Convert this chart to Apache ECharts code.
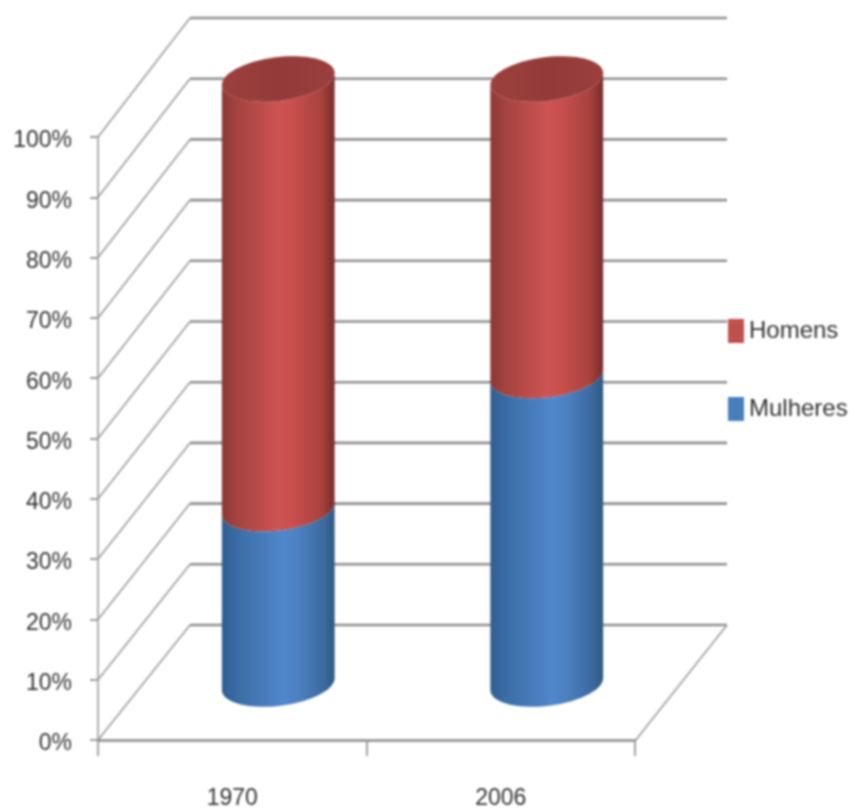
<!DOCTYPE html>
<html>
<head>
<meta charset="utf-8">
<style>html,body{margin:0;padding:0;background:#fff}#c{width:853px;height:812px;filter:blur(1px)}</style>
<script src="https://cdn.jsdelivr.net/npm/echarts@6/dist/echarts.min.js"></script>
</head>
<body>
<div id="c"></div>
<script>
const categories = ['1970', '2006'];
const mulheres = [29, 51];
const homens = [71, 49];
const yTicks = [0, 10, 20, 30, 40, 50, 60, 70, 80, 90, 100];

const FONT = '"Liberation Sans",sans-serif';
const DEPTH_X = 92;
const depthY = v => 115 + 0.04 * v;
const chart = echarts.init(document.getElementById('c'), null, {renderer: 'canvas'});

function grad(stops) {
  return new echarts.graphic.LinearGradient(0, 0, 1, 0, stops.map(s => ({offset: s[0], color: s[1]})));
}
const RED = [[0,'#8a3835'],[0.12,'#a2423f'],[0.5,'#cd5452'],[0.62,'#c94f4d'],[0.88,'#a9423e'],[1,'#772c2a']];
const BLUE = [[0,'#2f5e92'],[0.15,'#3c6da6'],[0.55,'#5088cc'],[0.68,'#4b80c0'],[0.9,'#3b6a9f'],[1,'#2e5880']];
const TOP = [[0,'#9c403d'],[0.5,'#933b39'],[1,'#9a3f3d']];

function frontCurve(cx, cy, a, b, k) {
  const pts = [];
  for (let i = 0; i <= 40; i++) {
    const t = Math.PI + Math.PI * i / 40;
    pts.push([cx + a * Math.cos(t), cy - b * Math.sin(t) - k * Math.cos(t)]);
  }
  return pts;
}
function fullEllipse(cx, cy, a, b, k) {
  const pts = [];
  for (let i = 0; i < 80; i++) {
    const t = 2 * Math.PI * i / 80;
    pts.push([cx + a * Math.cos(t), cy - b * Math.sin(t) - k * Math.cos(t)]);
  }
  return pts;
}
function cylinder(stops, withTop) {
  return function (params, api) {
    const i = api.value(0), v0 = api.value(1), v1 = api.value(2);
    const a = api.size([1, 0])[0] * 0.21;
    const b = 22, k = 6;
    const p0 = api.coord([i, v0]), p1 = api.coord([i, v1]);
    const cx = p0[0] + DEPTH_X / 2;
    const y0 = p0[1] - depthY(v0) / 2 + 1.5, y1 = p1[1] - depthY(v1) / 2 + 1.5;
    const lower = frontCurve(cx, y0, a, b, k);
    const upper = frontCurve(cx, y1, a, b, k).reverse();
    const children = [{
      type: 'polygon',
      shape: {points: lower.concat(upper)},
      style: {fill: grad(stops)}
    }];
    if (withTop) {
      children.push({
        type: 'polygon',
        shape: {points: fullEllipse(cx, y1, a, b, k)},
        style: {fill: grad(TOP)}
      });
    }
    return {type: 'group', children};
  };
}
function wall(params, api) {
  const v = api.value(1);
  const cs = params.coordSys;
  const y = api.coord([0, v])[1];
  const bx = cs.x + DEPTH_X, by = y - depthY(v);
  const rx = cs.x + cs.width + DEPTH_X;
  const children = [
    {type: 'line', shape: {x1: cs.x, y1: y, x2: bx, y2: by}, style: {stroke: '#9a9a9a', lineWidth: 1.6}},
    {type: 'line', shape: {x1: bx, y1: by, x2: rx, y2: by}, style: {stroke: '#8f8f8f', lineWidth: 2.6}}
  ];
  if (v === 0) {
    children.push({type: 'line', shape: {x1: rx, y1: by, x2: cs.x + cs.width, y2: y + 1},
      style: {stroke: '#9a9a9a', lineWidth: 1.6}});
  }
  return {type: 'group', children};
}

chart.setOption({
  animation: false,
  backgroundColor: '#fff',
  grid: {left: 98, top: 137, width: 537, height: 603, outerBoundsMode: 'none'},
  legend: {
    data: ['Homens', 'Mulheres'],
    orient: 'vertical',
    left: 728,
    top: 319,
    padding: 0,
    itemWidth: 16,
    itemHeight: 24,
    itemGap: 54,
    icon: 'rect',
    selectedMode: false,
    textStyle: {fontFamily: FONT, fontSize: 24, color: '#333', lineHeight: 24}
  },
  xAxis: {
    type: 'category',
    data: categories,
    axisLine: {lineStyle: {color: '#8a8a8a', width: 2.6}},
    axisTick: {show: true, length: 16, lineStyle: {color: '#8a8a8a', width: 1.6}},
    axisLabel: {fontFamily: FONT, fontSize: 23, color: '#333', margin: 47},
    splitLine: {show: false}
  },
  yAxis: {
    type: 'value',
    min: 0,
    max: 100,
    interval: 10,
    axisLine: {show: true, lineStyle: {color: '#9a9a9a', width: 1.6}},
    axisTick: {show: true, length: 8, lineStyle: {color: '#9a9a9a', width: 2}},
    axisLabel: {fontFamily: FONT, fontSize: 23, color: '#333', margin: 26, verticalAlign: 'top', lineHeight: 8, formatter: '{value}%'},
    splitLine: {show: false}
  },
  series: [
    {
      name: 'walls', type: 'custom', silent: true, z: 1,
      data: yTicks.map(v => [0, v]),
      encode: {x: 0, y: 1},
      renderItem: wall
    },
    {
      name: 'Mulheres', type: 'custom', z: 3,
      itemStyle: {color: '#4a7ebb'},
      data: categories.map((c, i) => [i, 0, mulheres[i]]),
      encode: {x: 0, y: [1, 2]},
      renderItem: cylinder(BLUE, false)
    },
    {
      name: 'Homens', type: 'custom', z: 3,
      itemStyle: {color: '#c0504d'},
      data: categories.map((c, i) => [i, mulheres[i], mulheres[i] + homens[i]]),
      encode: {x: 0, y: [1, 2]},
      renderItem: cylinder(RED, true)
    }
  ]
});
</script>
</body>
</html>
